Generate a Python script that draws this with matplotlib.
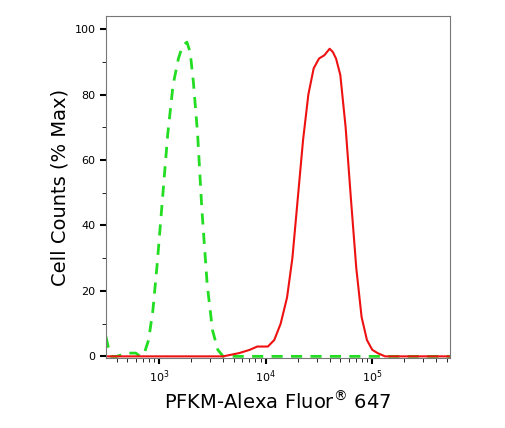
import numpy as np
import matplotlib.pyplot as plt
from matplotlib.ticker import LogLocator, NullFormatter, MultipleLocator

# log10 of fluorescence, percent of max
green_logx = [2.50, 2.52, 2.55, 2.60, 2.70, 2.78, 2.82, 2.86, 2.90, 2.94, 2.98, 3.03, 3.08,
              3.13, 3.18, 3.22, 3.26, 3.29, 3.32, 3.36, 3.40, 3.45, 3.50, 3.55, 3.60, 3.70,
              4.0, 4.5, 5.0, 5.73]
green_y = [6, 3, 0, 0, 1, 1, 0, 1, 5, 14, 28, 48, 68, 83, 91, 95, 96, 93, 84, 68, 45, 22,
           8, 2, 0, 0, 0, 0, 0, 0]

red_logx = [2.50, 3.40, 3.60, 3.75, 3.85, 3.92, 3.97, 4.02, 4.08, 4.14, 4.20, 4.25, 4.30,
            4.35, 4.40, 4.45, 4.50, 4.55, 4.60, 4.63, 4.66, 4.70, 4.75, 4.80, 4.85, 4.90,
            4.95, 5.00, 5.05, 5.12, 5.73]
red_y = [0, 0, 0, 1, 2, 3, 3, 3, 5, 10, 18, 30, 48, 66, 80, 88, 91, 92, 94, 93, 91, 86,
         70, 48, 27, 12, 5, 2, 1, 0, 0]

fig = plt.figure(figsize=(5.06, 4.28), dpi=100)
ax = fig.add_axes([106 / 506, 1 - 358 / 428, 344 / 506, 342 / 428])

ax.plot(10 ** np.array(green_logx), green_y, color='#22dd22', lw=2, ls=(0, (4, 3)))
ax.plot(10 ** np.array(red_logx), red_y, color='#ee1111', lw=1.5)

ax.set_xscale('log')
ax.set_xlim(10 ** 2.50, 10 ** 5.73)
ax.set_ylim(-0.5, 104)
ax.set_xticks([1e3, 1e4, 1e5])
ax.xaxis.set_minor_locator(LogLocator(base=10, subs=np.arange(2, 10)))
ax.xaxis.set_minor_formatter(NullFormatter())
ax.yaxis.set_major_locator(MultipleLocator(20))
ax.yaxis.set_minor_locator(MultipleLocator(10))
ax.tick_params(axis='both', which='major', labelsize=8, length=4, width=1.5)
ax.tick_params(axis='both', which='minor', length=3)
for s in ax.spines.values():
    s.set_color('#777777')

ax.set_ylabel('Cell Counts (% Max)', fontsize=14)
ax.set_xlabel('PFKM-Alexa Fluor$^{®}$ 647', fontsize=14)

fig.savefig('out.png', dpi=100)
